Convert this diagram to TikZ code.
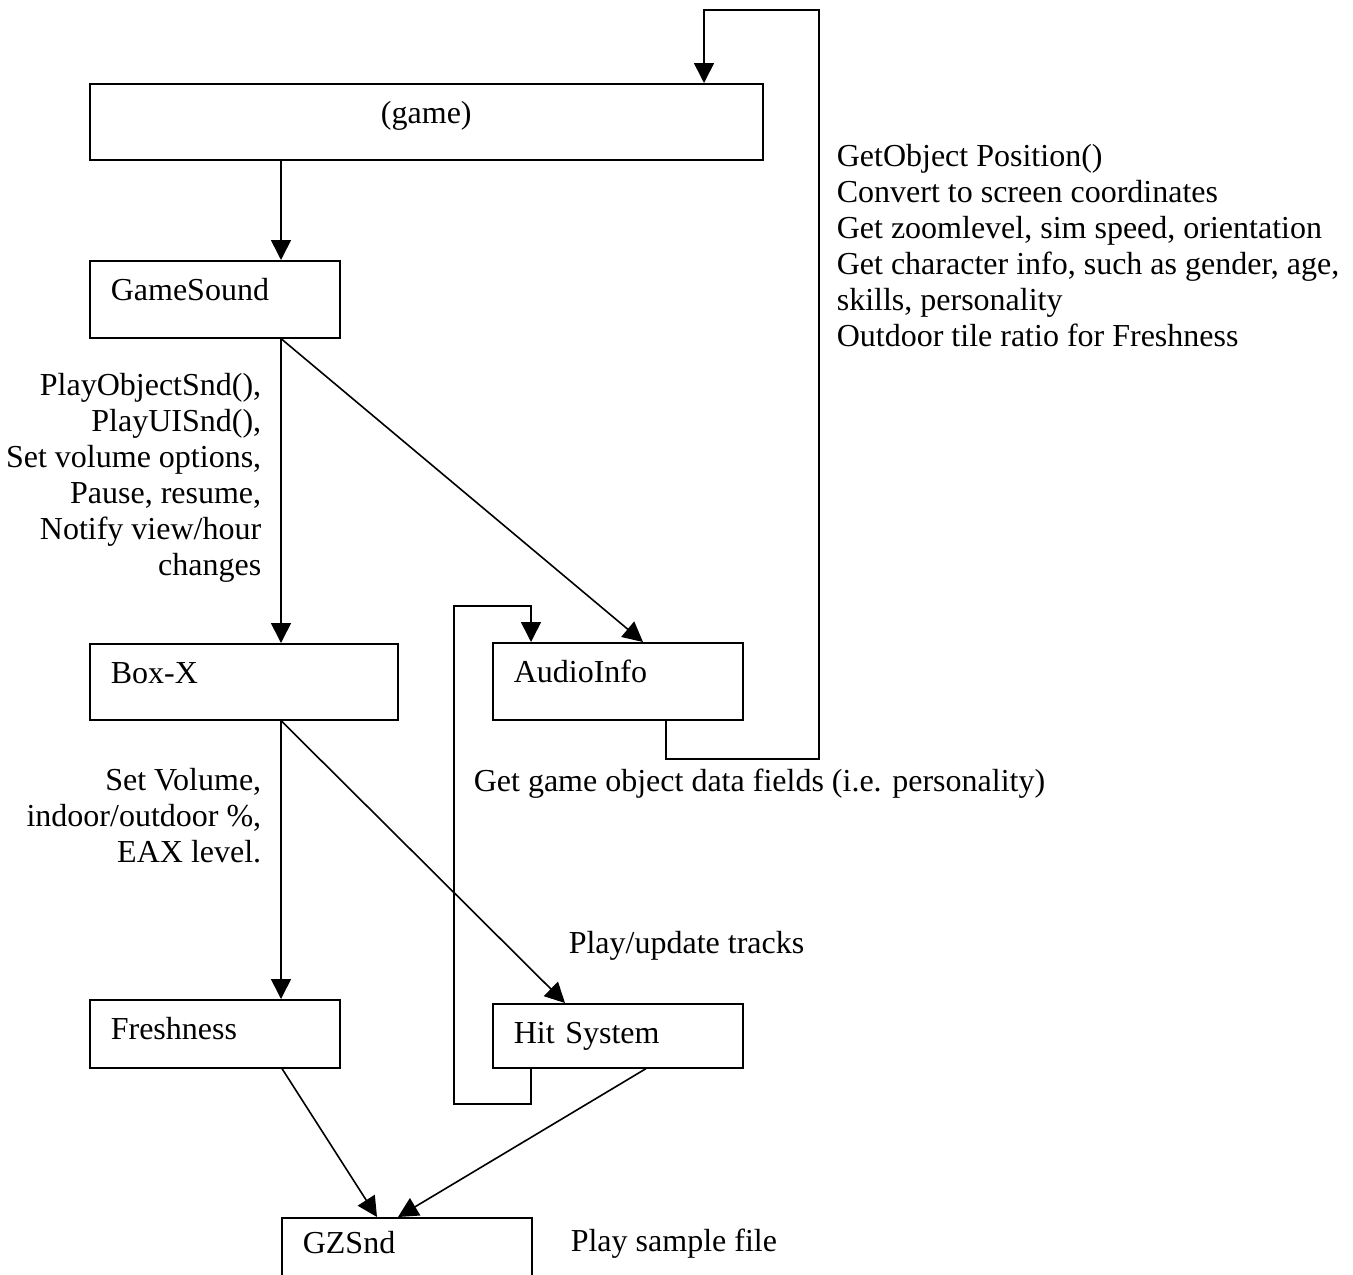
\documentclass[tikz,border=0pt]{standalone}
\usepackage{fontspec}
\setmainfont{Liberation Serif}
\usetikzlibrary{arrows.meta}

\begin{document}
\begin{tikzpicture}[x=0.5pt,y=-0.5pt,line width=0.8pt,
  font=\fontsize{16pt}{18pt}\selectfont,
  box/.style={draw,anchor=north west,inner xsep=10.5pt,inner ysep=0pt,
    text height=20pt,text width=104pt,align=left},
  lbl/.style={inner sep=0pt},
  arr/.style={-{Triangle[length=10pt,width=10pt]}}]
\useasboundingbox (0,0) rectangle (1353,1274);
% boxes
\node[box,text width=315.5pt,align=center,text depth=18pt] (game) at (89,83) {(game)};
\node[box,text depth=18.5pt] (sound) at (89,260) {GameSound};
\node[box,text width=133pt,text depth=18pt] (boxx) at (89,643) {Box-X};
\node[box,text depth=14pt] (fresh) at (89,999) {Freshness};
\node[box,text depth=18.5pt] (audio) at (492,642) {AudioInfo};
\node[box,text depth=12pt] (hit) at (492,1003) {Hit System};
\node[box,text height=18pt,text depth=20pt] (gz) at (281,1217) {GZSnd};
% labels
\node[lbl,anchor=north east,align=right] (sndcalls) at (262,372)
  {PlayObjectSnd(),\\PlayUISnd(),\\Set volume options,\\Pause, resume,\\Notify view/hour\\changes};
\node[lbl,anchor=north east,align=right] (boxcalls) at (262,767)
  {Set Volume,\\indoor/outdoor \%,\\EAX level.};
\node[lbl,anchor=north west,align=left] (infocalls) at (836,143)
  {GetObject Position()\\Convert to screen coordinates\\Get zoomlevel, sim speed, orientation\\Get character info, such as gender, age,\\skills, personality\\Outdoor tile ratio for Freshness};
\node[lbl,anchor=base west] (fieldcalls) at (473,791) {Get game object data fields (i.e. personality)};
\node[lbl,anchor=base west] (trackcalls) at (568,953) {Play/update tracks};
\node[lbl,anchor=base west] (samplecall) at (570,1251) {Play sample file};
% loop corners
\coordinate (fbR) at (819,759);
\coordinate (fbT) at (704,10);
\coordinate (hlL) at (454,1104);
\coordinate (hlT) at (531,606);
% connectors
\draw[arr] ([xshift=96pt]game.south west) -- ([xshift=96pt]sound.north west);
\draw[arr] ([xshift=96pt]sound.south west) -- ([xshift=96pt]boxx.north west);
\draw[arr] ([xshift=96pt]sound.south west) -- ([xshift=75.5pt]audio.north west);
\draw[arr] ([xshift=96pt]boxx.south west) -- ([xshift=96pt]fresh.north west);
\draw[arr] ([xshift=96pt]boxx.south west) -- ([xshift=36.5pt]hit.north west);
\draw[arr] ([xshift=96.5pt]fresh.south west) -- ([xshift=48pt]gz.north west);
\draw[arr] ([xshift=77pt]hit.south west) -- ([xshift=58.5pt]gz.north west);
\draw[arr] ([xshift=87pt]audio.south west) |- (fbR) |- (fbT) -- ([xshift=307.5pt]game.north west);
\draw[arr] ([xshift=19.5pt]hit.south west) |- (hlL) |- (hlT) -- ([xshift=19.5pt]audio.north west);
\end{tikzpicture}
\end{document}
